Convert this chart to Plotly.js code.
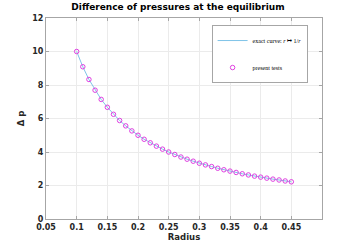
<!DOCTYPE html>
<html><head><meta charset="utf-8">
<script src="https://cdn.plot.ly/plotly-3.0.1.min.js"></script>
<style>html,body{margin:0;padding:0;background:#fff}#c{width:356px;height:247px}</style>
</head><body><div id="c"></div>
<script>
const radius = [0.10,0.11,0.12,0.13,0.14,0.15,0.16,0.17,0.18,0.19,0.20,0.21,0.22,0.23,0.24,0.25,0.26,0.27,0.28,0.29,0.30,0.31,0.32,0.33,0.34,0.35,0.36,0.37,0.38,0.39,0.40,0.41,0.42,0.43,0.44,0.45];
const deltaP = [10.0,9.09,8.33,7.69,7.14,6.67,6.25,5.88,5.56,5.26,5.0,4.76,4.55,4.35,4.17,4.0,3.85,3.70,3.57,3.45,3.33,3.23,3.13,3.03,2.94,2.86,2.78,2.70,2.63,2.56,2.5,2.44,2.38,2.33,2.27,2.22];
const xTicks = [0.05,0.1,0.15,0.2,0.25,0.3,0.35,0.4,0.45];
const xTickLabels = ['0.05','0.1','0.15','0.2','0.25','0.3','0.35','0.4','0.45'];
const yTicks = [0,2,4,6,8,10,12];

const tickFont = {family:'DejaVu Sans', size:8, color:'#262626', weight:'bold'};
const data = [
  {x:radius, y:deltaP, mode:'lines', name:'exact curve: <i>r</i> ↦ 1/<i>r</i>',
   line:{color:'#7fc4e8', width:1}, legendgroup:'a'},
  {x:radius, y:deltaP, mode:'markers', name:'present tests',
   marker:{symbol:'circle-open', color:'#e040e0', size:4.5, line:{width:1}}, legendgroup:'b'}
];
const axisBase = {showline:true, mirror:'ticks', linecolor:'#a6a6a6', linewidth:1,
  ticks:'inside', ticklen:3, tickcolor:'#a6a6a6', gridcolor:'#ebebeb', gridwidth:1,
  zeroline:false, tickfont:tickFont};
const layout = {
  width:356, height:247, margin:{l:46, r:34, t:18, b:28},
  paper_bgcolor:'#fff', plot_bgcolor:'#fff',
  title:{text:'<b>Difference of pressures at the equilibrium</b>', font:{family:'DejaVu Sans', size:9, color:'#000'}, x:0.5, xanchor:'center', y:0.985, yanchor:'top'},
  xaxis:Object.assign({}, axisBase, {range:[0.05,0.5], tickvals:xTicks, ticktext:xTickLabels,
    title:{text:'<b>Radius</b>', font:{family:'DejaVu Sans', size:8.5, color:'#262626'}, standoff:2}}),
  yaxis:Object.assign({}, axisBase, {range:[0,12], tickvals:yTicks,
    title:{text:'<b>Δ p</b>', font:{family:'DejaVu Sans', size:8.5, color:'#262626'}, standoff:6}}),
  showlegend:true,
  legend:{x:0.6, y:0.965, xanchor:'left', yanchor:'top', bgcolor:'#fff', bordercolor:'#a6a6a6', borderwidth:1,
    font:{family:'Liberation Serif', size:6, color:'#000'}, tracegroupgap:8, traceorder:'grouped', itemwidth:30}
};
Plotly.newPlot('c', data, layout, {staticPlot:true, displayModeBar:false});
</script></body></html>
